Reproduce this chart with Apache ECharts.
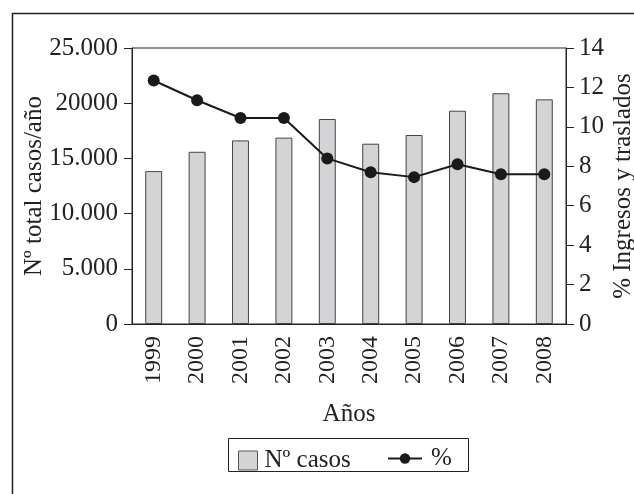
<!DOCTYPE html>
<html>
<head>
<meta charset="utf-8">
<script src="https://cdn.jsdelivr.net/npm/echarts@6/dist/echarts.min.js"></script>
<style>
  html, body { margin: 0; padding: 0; background: #fff; }
  #chart { width: 634px; height: 494px; }
</style>
</head>
<body>
<div id="chart"></div>
<script>
// data
var years = ['1999', '2000', '2001', '2002', '2003', '2004', '2005', '2006', '2007', '2008']
var casos = [13850, 15600, 16630, 16880, 18570, 16330, 17120, 19320, 20900, 20350]
var porcentaje = [12.35, 11.35, 10.45, 10.45, 8.4, 7.7, 7.45, 8.1, 7.6, 7.6]
var leftTicks = ['0', '5.000', '10.000', '15.000', '20000', '25.000']
var rightTicks = ['0', '2', '4', '6', '8', '10', '12', '14']

var serif = "'Liberation Serif', 'Times New Roman', serif"
var ink = '#222'

var chart = echarts.init(document.getElementById('chart'))
var option = {
  backgroundColor: '#fff',
  animation: false,
  textStyle: { fontFamily: serif, color: ink },
  grid: {
    left: 132, right: 68, top: 48, bottom: 170,
    outerBoundsMode: 'none',
    show: true, borderColor: ink, borderWidth: 1, backgroundColor: 'transparent'
  },
  // outer frame + legend box
  graphic: [
    {
      type: 'rect', left: 10, top: 11,
      shape: { width: 640, height: 500 },
      style: { fill: 'none', stroke: ink, lineWidth: 1.5 },
      z: -1
    },
    {
      type: 'rect', left: 226, top: 436,
      shape: { width: 240, height: 33 },
      style: { fill: 'none', stroke: ink, lineWidth: 1 }
    }
  ],
  legend: [
    {
      data: ['Nº casos'],
      icon: 'rect',
      left: 233, top: 443,
      itemWidth: 19, itemHeight: 19,
      itemStyle: { borderColor: '#555', borderWidth: 1 },
      textStyle: { fontFamily: serif, fontSize: 25, color: ink, padding: [0, 0, 0, 2] }
    },
    {
      data: ['%'],
      left: 382, top: 441,
      itemWidth: 34, itemHeight: 13,
      textStyle: { fontFamily: serif, fontSize: 25, color: ink, padding: [0, 0, 0, 4] }
    }
  ],
  xAxis: {
    type: 'category',
    data: years,
    name: 'Años',
    nameLocation: 'middle',
    nameGap: 78,
    nameMoveOverlap: false,
    nameTextStyle: { fontFamily: serif, fontSize: 25, color: ink },
    axisLine: { lineStyle: { color: ink, width: 1 } },
    axisTick: { length: 8, lineStyle: { color: ink } },
    axisLabel: { rotate: 90, margin: 12, fontFamily: serif, fontSize: 24, color: ink }
  },
  yAxis: [
    {
      type: 'value',
      min: 0, max: 25000, interval: 5000,
      name: 'Nº total casos/año',
      nameLocation: 'middle',
      nameGap: 85,
      nameMoveOverlap: false,
      nameTextStyle: { fontFamily: serif, fontSize: 25, color: ink },
      axisLine: { show: true, lineStyle: { color: ink } },
      axisTick: { show: true, length: 8, lineStyle: { color: ink } },
      splitLine: { show: false },
      axisLabel: {
        margin: 14, fontFamily: serif, fontSize: 25, color: ink,
        formatter: function (v) { return leftTicks[v / 5000] }
      }
    },
    {
      type: 'value',
      min: 0, max: 14, interval: 2,
      name: '% Ingresos y traslados',
      nameLocation: 'middle',
      nameGap: 45,
      nameMoveOverlap: false,
      nameTextStyle: { fontFamily: serif, fontSize: 25, color: ink },
      axisLine: { show: true, lineStyle: { color: ink } },
      axisTick: { show: true, length: 8, lineStyle: { color: ink } },
      splitLine: { show: false },
      axisLabel: {
        margin: 13, fontFamily: serif, fontSize: 25, color: ink,
        formatter: function (v) { return rightTicks[v / 2] }
      }
    }
  ],
  series: [
    {
      name: 'Nº casos',
      type: 'bar',
      yAxisIndex: 0,
      barWidth: '39%',
      itemStyle: { color: '#d3d4d6', borderColor: '#444', borderWidth: 1 },
      data: casos
    },
    {
      name: '%',
      type: 'line',
      yAxisIndex: 1,
      symbol: 'circle',
      symbolSize: 12,
      lineStyle: { color: '#1a1a1a', width: 2 },
      itemStyle: { color: '#1a1a1a' },
      data: porcentaje
    }
  ]
}
chart.setOption(option)
</script>
</body>
</html>
